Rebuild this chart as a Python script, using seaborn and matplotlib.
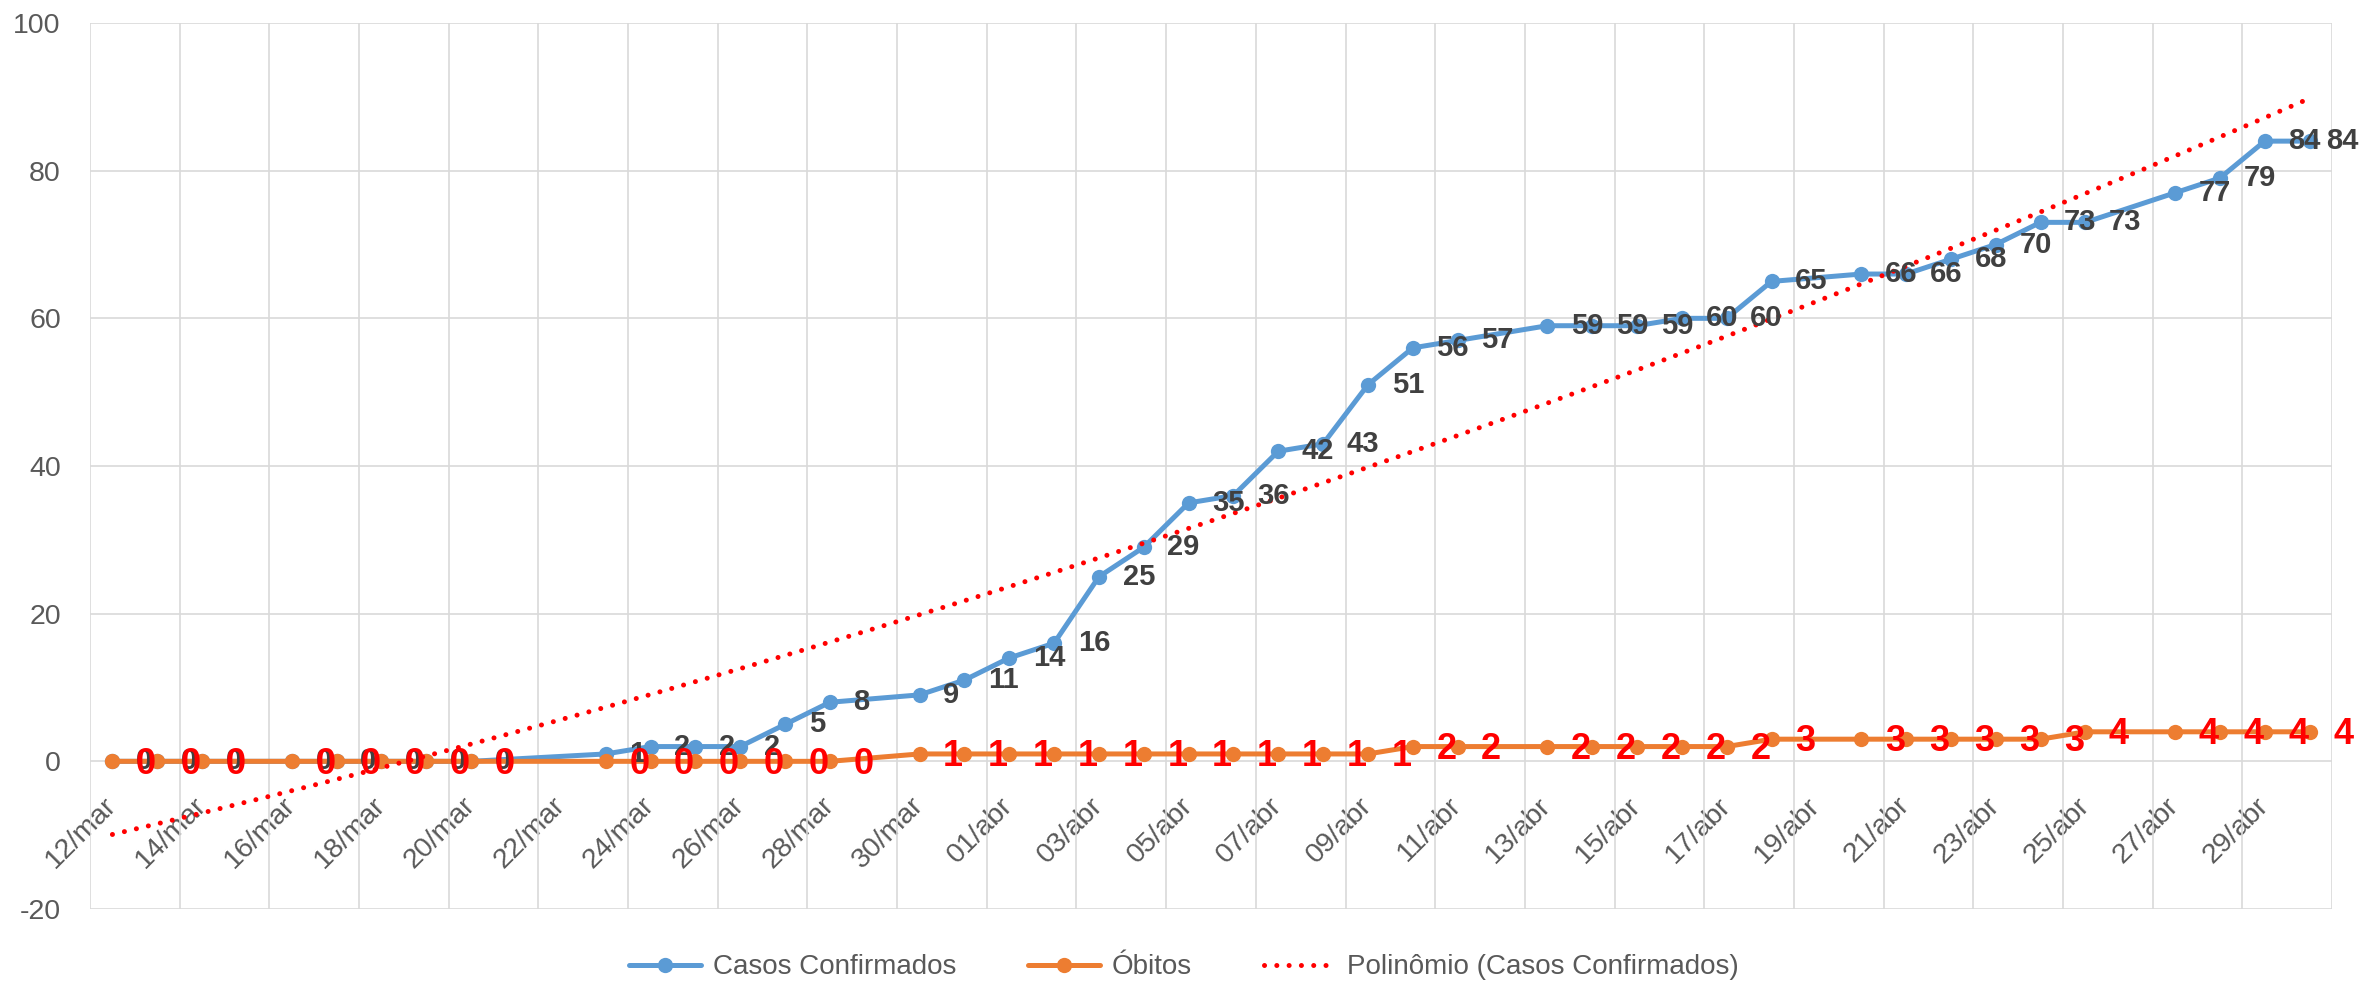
import matplotlib
matplotlib.use("Agg")
import numpy as np
import pandas as pd
import seaborn as sns
import matplotlib.pyplot as plt
from matplotlib.lines import Line2D

# ---------------- data ----------------
dias = ["12/mar", "13/mar", "14/mar", "15/mar", "16/mar", "17/mar", "18/mar", "19/mar",
        "20/mar", "21/mar", "22/mar", "23/mar", "24/mar", "25/mar", "26/mar", "27/mar",
        "28/mar", "29/mar", "30/mar", "31/mar", "01/abr", "02/abr", "03/abr", "04/abr",
        "05/abr", "06/abr", "07/abr", "08/abr", "09/abr", "10/abr", "11/abr", "12/abr",
        "13/abr", "14/abr", "15/abr", "16/abr", "17/abr", "18/abr", "19/abr", "20/abr",
        "21/abr", "22/abr", "23/abr", "24/abr", "25/abr", "26/abr", "27/abr", "28/abr",
        "29/abr", "30/abr"]

casos = [0, 0, 0, None, 0, 0, 0, 0, 0, None, None, 1, 2, 2, 2, 5, 8, None, 9, 11,
         14, 16, 25, 29, 35, 36, 42, 43, 51, 56, 57, None, 59, 59, 59, 60, 60, 65, None, 66,
         66, 68, 70, 73, 73, None, 77, 79, 84, 84]

obitos = [0, 0, 0, None, 0, 0, 0, 0, 0, None, None, 0, 0, 0, 0, 0, 0, None, 1, 1,
          1, 1, 1, 1, 1, 1, 1, 1, 1, 2, 2, None, 2, 2, 2, 2, 2, 3, None, 3,
          3, 3, 3, 3, 4, None, 4, 4, 4, 4]

serie_nomes = ["Casos Confirmados", "Óbitos", "Polinômio (Casos Confirmados)"]
y_ticks = [-20, 0, 20, 40, 60, 80, 100]

AZUL = "#5B9BD5"
LARANJA = "#ED7D31"
VERMELHO = "#FF0000"
CINZA_TXT = "#595959"
CINZA_GRID = "#D9D9D9"

# ---------------- style ----------------
sns.set_style("white")
plt.rcParams["font.family"] = ["Liberation Sans", "DejaVu Sans"]
plt.rcParams["axes.unicode_minus"] = False
NARROW = ["Liberation Sans Narrow", "Liberation Sans", "DejaVu Sans"]

W, H = 2361, 984
fig = plt.figure(figsize=(W / 100, H / 100), dpi=100)
ax = fig.add_axes([90 / W, 75 / H, (2332 - 90) / W, (909 - 23) / H])

x = np.arange(len(dias))
df = pd.DataFrame({"x": x,
                   "casos": pd.Series(casos, dtype="float"),
                   "obitos": pd.Series(obitos, dtype="float")})
dc = df.dropna(subset=["casos"])
do = df.dropna(subset=["obitos"])

lw = 3.6
ms = 11
sns.lineplot(data=dc, x="x", y="casos", ax=ax, color=AZUL, lw=lw, marker="o",
             markersize=ms, markeredgewidth=0, zorder=3, legend=False)
sns.lineplot(data=do, x="x", y="obitos", ax=ax, color=LARANJA, lw=lw, marker="o",
             markersize=ms, markeredgewidth=0, zorder=3.2, legend=False)

# polynomial trendline (order 2) fitted on confirmed cases
coef = np.polyfit(dc["x"].to_numpy(), dc["casos"].to_numpy(), 2)
xt = np.linspace(0, len(dias) - 1, 400)
ax.plot(xt, np.polyval(coef, xt), color=VERMELHO, lw=lw, linestyle=(0, (0.01, 2.45)),
        dash_capstyle="round", zorder=3.5)

# data labels
ultimo = len(dias) - 1
for xi, v in zip(dc["x"], dc["casos"]):
    dx = 12 if xi == ultimo else 17
    ax.annotate(f"{int(v)}", (xi, v), xytext=(dx, 0), textcoords="offset points",
                ha="left", va="center", fontsize=21, fontweight="bold",
                family=NARROW, color="#404040", zorder=5)
for xi, v in zip(do["x"], do["obitos"]):
    ax.annotate(f"{int(v)}", (xi, v), xytext=(17, -2), textcoords="offset points",
                ha="left", va="center", fontsize=26, fontweight="bold",
                family=NARROW, color=VERMELHO, zorder=6)

# axes
ax.set_xlim(-0.5, len(dias) - 0.5)
ax.set_ylim(-20, 100)
ax.set_yticks(y_ticks)
ax.set_xticks(np.arange(-0.5, len(dias), 2), minor=True)
ax.spines["bottom"].set_position(("data", 0))
for s in ax.spines.values():
    s.set_visible(False)
ax.tick_params(axis="x", which="both", length=0, pad=29, labelsize=20.5, labelcolor=CINZA_TXT)
ax.tick_params(axis="y", length=0, pad=21, labelsize=20.5, labelcolor=CINZA_TXT)
ax.set_xticks(x[::2])
ax.set_xticklabels(dias[::2], rotation=45, ha="right", va="center",
                   rotation_mode="anchor", fontsize=20.5, color=CINZA_TXT)
ax.grid(False)
ax.grid(which="minor", axis="x", color=CINZA_GRID, lw=1.2)
ax.grid(which="major", axis="y", color=CINZA_GRID, lw=1.2)
ax.set_axisbelow(True)
ax.set_xlabel("")
ax.set_ylabel("")

# legend
handles = [
    Line2D([], [], color=AZUL, lw=lw, marker="o", markersize=ms, markeredgewidth=0),
    Line2D([], [], color=LARANJA, lw=lw, marker="o", markersize=ms, markeredgewidth=0),
    Line2D([], [], color=VERMELHO, lw=lw, linestyle=(0, (0.01, 2.45)), dash_capstyle="round"),
]
fig.legend(handles, serie_nomes, loc="center", bbox_to_anchor=(0.5015, 0.017), ncol=3,
           frameon=False, fontsize=20, handlelength=2.6, handletextpad=0.4,
           columnspacing=2.6, labelcolor=CINZA_TXT)

fig.savefig("out.png", dpi=100)
